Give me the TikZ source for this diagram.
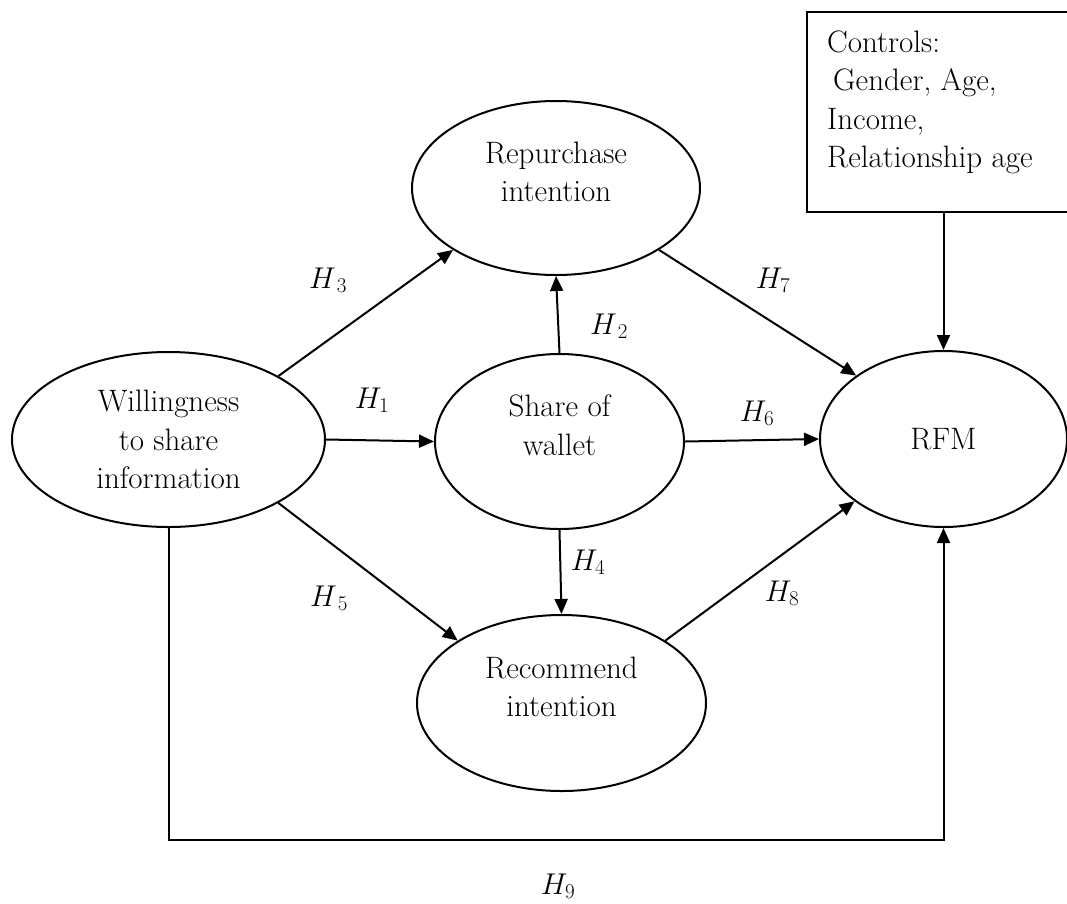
\RequirePackage{fix-cm}
\documentclass[tikz,border=0pt]{standalone}
\usetikzlibrary{shapes.geometric,arrows.meta}
\begin{document}
\begin{tikzpicture}[x=1pt,y=-1pt,
  every node/.style={font=\fontsize{31}{38.5}\selectfont},
  construct/.style={draw, ellipse, line width=2pt, inner sep=0pt, align=center},
  twoline/.style={text depth=33pt},
  link/.style={line width=2pt, -{Triangle[length=15pt,width=13pt]}},
  hyp/.style={inner sep=0pt, font=\fontsize{30}{36}\selectfont}
]
\useasboundingbox (0,0) rectangle (1067,903);
\fill[white] (0,0) rectangle (1067,903);

% constructs
\node[construct, minimum width=313pt, minimum height=175pt] (W) at (168.5,439.5) {Willingness\\to share\\information};
\node[construct, twoline, minimum width=288pt, minimum height=174pt] (R) at (556,188) {Repurchase\\intention};
\node[construct, twoline, minimum width=249pt, minimum height=175pt] (S) at (559.5,441.5) {Share of\\wallet};
\node[construct, twoline, minimum width=289pt, minimum height=176pt] (C) at (561.5,703) {Recommend\\intention};
\node[construct, minimum width=247pt, minimum height=176pt] (F) at (943.5,439) {RFM};

% controls box
\node[draw, line width=2pt, minimum width=273pt, minimum height=200pt, inner sep=0pt] (B) at (943.5,112) {};
\node[anchor=north west, align=left, inner sep=0pt] (Bt) at (827,30.5) {Controls:\\\hspace*{6pt}Gender, Age,\\Income,\\Relationship age};

% connectors
\draw[link] (W.30.5) -- (R.211.5);
\draw[link] (W.east) -- (S.west);
\draw[link] (W.-30.1) -- (C.149);
\draw[link] (S.north) -- (R.south);
\draw[link] (S.south) -- (C.north);
\draw[link] (S.east) -- (F.west);
\draw[link] (R.-31) -- (F.144.25);
\draw[link] (C.31.2) -- (F.215.75);
\coordinate (h9) at (560,840);
\draw[link] (W.south) |- (h9) -| (F.south);
\draw[link] (B.south) -- (F.north);

% hypothesis labels
\node[hyp] (h3) at (328,280) {$H_{\,3}$};
\node[hyp] (h2) at (609,326) {$H_{\,2}$};
\node[hyp] (h1) at (372,400) {$H_1$};
\node[hyp] (h6) at (757,413) {$H_6$};
\node[hyp] (h7) at (773,280) {$H_7$};
\node[hyp] (h4) at (588,562) {$H_4$};
\node[hyp] (h8) at (782,593) {$H_8$};
\node[hyp] (h5) at (329,598) {$H_{\,5}$};
\node[hyp] (h9l) at (558,886) {$H_9$};
\end{tikzpicture}
\end{document}
